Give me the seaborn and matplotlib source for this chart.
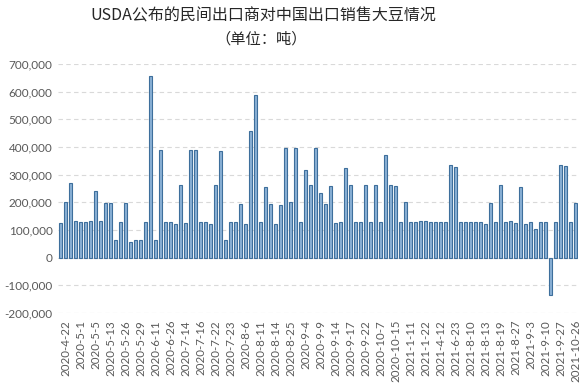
import matplotlib
matplotlib.use("Agg")
import matplotlib.pyplot as plt
import seaborn as sns
import pandas as pd
from matplotlib.ticker import FuncFormatter, MultipleLocator

# ---- data (thousand tonnes) ----
values_k = [
    125, 200, 270, 134, 130, 130, 134, 242, 134, 198, 198, 65, 130, 198, 58, 64, 65, 130, 655, 63, 388, 130,
    130, 123, 261, 127, 388, 388, 130, 130, 123, 261, 384, 65, 130, 130, 193, 123, 457, 587, 130, 255,
    195, 123, 192, 398, 201, 398, 130, 316, 261, 398, 235, 195, 260, 127, 130, 325, 261, 130, 130, 264, 130, 261,
    130, 372, 261, 259, 130, 201, 130, 130, 134, 134, 130, 130, 130, 130, 334, 328, 130, 130, 130, 130, 130,
    123, 198, 130, 261, 130, 134, 127, 255, 123, 130, 105, 130, 130, -136, 130, 334, 330, 130, 198,
]
tick_labels = [
    "2020-4-22", "2020-5-1", "2020-5-5", "2020-5-13", "2020-5-26", "2020-5-29", "2020-6-11",
    "2020-6-26", "2020-7-14", "2020-7-16", "2020-7-22", "2020-7-23", "2020-8-6", "2020-8-11",
    "2020-8-14", "2020-8-25", "2020-9-4", "2020-9-9", "2020-9-14", "2020-9-17", "2020-9-22",
    "2020-10-7", "2020-10-15", "2021-1-11", "2021-1-22", "2021-4-12", "2021-6-23", "2021-8-10",
    "2021-8-13", "2021-8-19", "2021-8-27", "2021-9-3", "2021-9-10", "2021-9-27", "2021-10-26",
]
title_line1 = "USDA公布的民间出口商对中国出口销售大豆情况"
title_line2 = "（单位：吨）"

values = [v * 1000 for v in values_k]
df = pd.DataFrame({"idx": list(range(len(values))), "value": values})

sns.set_theme(style="white")
plt.rcParams["font.family"] = ["Lato", "Noto Sans CJK SC", "DejaVu Sans"]

fig = plt.figure(figsize=(5.86, 3.86), dpi=100)
ax = fig.add_axes([58 / 586, 1 - 313 / 386, (578 - 58) / 586, (313 - 64) / 386])

sns.barplot(data=df, x="idx", y="value", color="#8BB1D6", width=0.55,
            edgecolor="#3E6F9C", linewidth=0.8, saturation=1, ax=ax, zorder=3)

ax.set_xlim(-0.5, len(values) - 0.5)
ax.set_ylim(-200000, 700000)
ax.yaxis.set_major_locator(MultipleLocator(100000))
ax.yaxis.set_major_formatter(FuncFormatter(lambda v, p: f"{int(v):,}"))
for y in range(-200000, 700001, 100000):
    if y == 0:
        ax.axhline(0, color="#D9D9D9", lw=0.8, zorder=2)
    else:
        ax.axhline(y, color="#D9D9D9", lw=0.8, ls=(0, (4, 3)), zorder=1)

ax.set_xticks(list(range(1, len(values), 3))[:len(tick_labels)])
ax.set_xticklabels(tick_labels, rotation=90, fontsize=8.3, color="#595959")
ax.tick_params(axis="y", labelsize=8.5, labelcolor="#595959", length=0, pad=4)
ax.tick_params(axis="x", length=0, pad=5)
ax.set_xlabel("")
ax.set_ylabel("")
for s in ax.spines.values():
    s.set_visible(False)

fig.text(263 / 586, 1 - 16 / 386, title_line1, ha="center", va="center",
         fontsize=11.5, color="#262626", family=["Noto Sans CJK SC", "DejaVu Sans"])
fig.text(261 / 586, 1 - 39 / 386, title_line2, ha="center", va="center",
         fontsize=11, color="#262626", family=["Noto Sans CJK SC", "DejaVu Sans"])

fig.savefig("out.png", dpi=100)
